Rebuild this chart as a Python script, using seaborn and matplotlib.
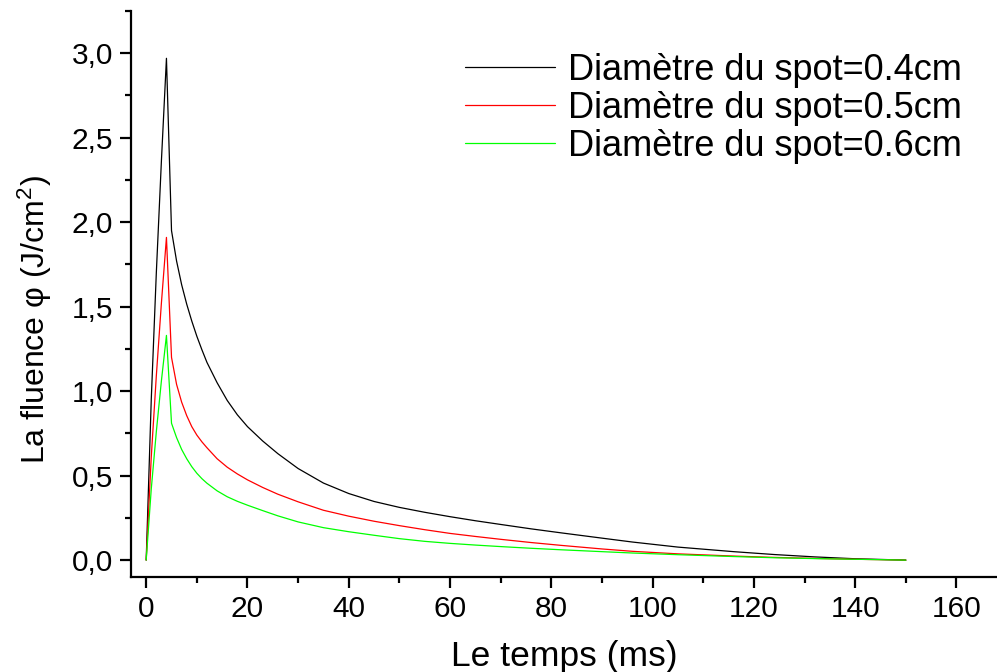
import matplotlib
matplotlib.use("Agg")
import matplotlib.pyplot as plt
from matplotlib.ticker import MultipleLocator, FuncFormatter
import pandas as pd
import seaborn as sns

# Time axis (ms)
temps = [0, 1, 2, 3, 4, 5, 6, 7, 8, 9, 10, 11, 12, 14, 16, 18, 20, 23, 26,
         30, 35, 40, 45, 50, 55, 60, 65, 70, 76, 82, 90, 96, 105, 116, 124,
         132, 140, 150]

# Fluence (J/cm^2) for each spot diameter
fluence_04 = [0, 0.95, 1.70, 2.36, 2.97, 1.95, 1.77, 1.63, 1.515, 1.415, 1.325,
              1.245, 1.17, 1.05, 0.945, 0.86, 0.79, 0.705, 0.630, 0.542, 0.456,
              0.394, 0.347, 0.312, 0.283, 0.257, 0.233, 0.211, 0.185, 0.161,
              0.13, 0.107, 0.077, 0.05, 0.033, 0.019, 0.008, 0.0]
fluence_05 = [0, 0.61, 1.09, 1.52, 1.91, 1.20, 1.04, 0.935, 0.855, 0.79, 0.74,
              0.70, 0.665, 0.60, 0.55, 0.51, 0.475, 0.43, 0.39, 0.345, 0.295,
              0.26, 0.23, 0.204, 0.18, 0.158, 0.14, 0.123, 0.104, 0.087,
              0.066, 0.052, 0.037, 0.024, 0.016, 0.01, 0.005, 0.0]
fluence_06 = [0, 0.42, 0.76, 1.06, 1.33, 0.81, 0.725, 0.655, 0.60, 0.553,
              0.514, 0.482, 0.455, 0.41, 0.375, 0.348, 0.325, 0.293, 0.262,
              0.226, 0.192, 0.168, 0.147, 0.127, 0.111, 0.099, 0.089, 0.08,
              0.07, 0.061, 0.05, 0.042, 0.032, 0.021, 0.014, 0.009, 0.005, 0.0]

labels = ["Diamètre du spot=0.4cm", "Diamètre du spot=0.5cm",
          "Diamètre du spot=0.6cm"]
colors = ["#000000", "#ff0000", "#00ff00"]

df = pd.concat([
    pd.DataFrame({"t": temps, "phi": vals, "serie": lab})
    for vals, lab in zip([fluence_04, fluence_05, fluence_06], labels)
], ignore_index=True)

sns.set_theme(style="ticks")
plt.rcParams["font.family"] = ["Liberation Sans", "DejaVu Sans"]
plt.rcParams["mathtext.fontset"] = "custom"
plt.rcParams["mathtext.rm"] = "Liberation Sans"
plt.rcParams["mathtext.it"] = "Liberation Sans"
plt.rcParams["text.color"] = "black"
plt.rcParams["axes.labelcolor"] = "black"

fig = plt.figure(figsize=(9.97, 6.72), dpi=100)
ax = fig.add_axes([131 / 997, 1 - 577 / 672, 1 - 131 / 997, (577 - 11) / 672])

sns.lineplot(data=df, x="t", y="phi", hue="serie", palette=colors,
             linewidth=0.9, ax=ax, sort=False, estimator=None)

ax.set_xlim(-3, 168)
ax.set_ylim(-0.1, 3.25)
ax.xaxis.set_major_locator(MultipleLocator(20))
ax.xaxis.set_minor_locator(MultipleLocator(10))
ax.yaxis.set_major_locator(MultipleLocator(0.5))
ax.yaxis.set_minor_locator(MultipleLocator(0.25))
ax.yaxis.set_major_formatter(FuncFormatter(lambda v, p: f"{v:.1f}".replace(".", ",")))

for s in ["top", "right"]:
    ax.spines[s].set_visible(False)
for s in ["left", "bottom"]:
    ax.spines[s].set_linewidth(1.6)
    ax.spines[s].set_color("black")

ax.tick_params(which="major", direction="out", length=8, width=1.6,
               labelsize=21.5, colors="black", pad=5)
ax.tick_params(which="minor", direction="out", length=4.5, width=1.6,
               colors="black")

ax.set_xlabel("Le temps (ms)", fontsize=25.5, labelpad=12)
ax.set_ylabel(r"La fluence φ (J/cm$^2$)", fontsize=23)
ax.yaxis.set_label_coords(-0.089, 0.455)

leg = ax.legend(loc="upper left", bbox_to_anchor=(465 / 997, 1 - 53 / 672),
                bbox_transform=fig.transFigure, frameon=False, fontsize=26,
                handlelength=2.5, handletextpad=0.36, labelspacing=0.08,
                borderpad=0, borderaxespad=0)
for line in leg.get_lines():
    line.set_linewidth(0.9)
for txt in leg.get_texts():
    txt.set_color("black")

fig.savefig("out.png", dpi=100)
